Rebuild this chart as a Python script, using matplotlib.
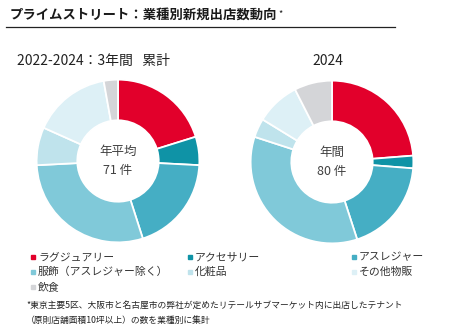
import matplotlib.pyplot as plt
from matplotlib.patches import Rectangle
from matplotlib.lines import Line2D

plt.rcParams['font.family'] = ['Noto Sans CJK JP', 'DejaVu Sans']

categories = ['ラグジュアリー', 'アクセサリー', 'アスレジャー', '服飾（アスレジャー除く）',
              '化粧品', 'その他物販', '飲食']
colors = ['#E2002B', '#0F93A6', '#45AEC4', '#80C9D9', '#BFE3EC', '#DDF0F6', '#D4D5D8']
counts_3yr = [43, 12, 41, 62, 16, 33, 6]
counts_2024 = [19, 2, 15, 28, 3, 7, 6]

W, H = 450, 332
fig = plt.figure(figsize=(W / 100, H / 100), dpi=100)


def px_axes(x0, y0, w, h):
    return fig.add_axes([x0 / W, 1 - (y0 + h) / H, w / W, h / H])


def donut(ax, values, center_lines):
    ax.pie(values, colors=colors, startangle=90, counterclock=False,
           radius=1.0, wedgeprops=dict(width=0.5, edgecolor='white', linewidth=1.3))
    ax.set_xlim(-1.02, 1.02)
    ax.set_ylim(-1.02, 1.02)
    ax.set_aspect('equal')
    ax.axis('off')
    ax.text(0, 0.12, center_lines[0], ha='center', va='center', fontsize=9, color='#404040')
    ax.text(0, -0.12, center_lines[1], ha='center', va='center', fontsize=9, color='#404040')


ax1 = px_axes(35, 78, 166, 166)
donut(ax1, counts_3yr, ['年平均', '71 件'])
ax2 = px_axes(249, 79, 166, 166)
donut(ax2, counts_2024, ['年間', '80 件'])

# title, with the footnote mark just after it
title = fig.text(10 / W, 1 - 15 / H, 'プライムストリート：業種別新規出店数動向', fontsize=9.6,
                 fontweight='bold', color='#1a1a1a', va='center', ha='left')
ax1.annotate('*', xy=(1, 0.95), xycoords=title, xytext=(1, 0), textcoords='offset points',
             fontsize=6.5, color='#1a1a1a', va='top', ha='left', annotation_clip=False)
fig.add_artist(Line2D([6 / W, 395 / W], [1 - 27 / H, 1 - 27 / H], color='#222222', lw=0.9))

fig.text(17 / W, 1 - 61 / H, '2022-2024：3年間   累計', fontsize=10, color='#222222',
         va='center', ha='left')
fig.text(312 / W, 1 - 61 / H, '2024', fontsize=10, color='#222222', va='center', ha='left')

# legend (row-major, 3 columns)
col_x = [31, 188, 352]
row_y = [257, 272, 287]
for i, (name, c) in enumerate(zip(categories, colors)):
    x = col_x[i % 3]
    y = row_y[i // 3]
    fig.add_artist(Rectangle((x / W, 1 - (y + 2) / H), 4 / W, 4 / H, color=c,
                             transform=fig.transFigure))
    fig.text((x + 7) / W, 1 - y / H, name, fontsize=7.8, color='#333333', va='center', ha='left')

fig.text(26 / W, 1 - 305 / H,
         '*東京主要5区、大阪市と名古屋市の弊社が定めたリテールサブマーケット内に出店したテナント',
         fontsize=6.3, color='#222222', va='center', ha='left')
fig.text(26 / W, 1 - 320 / H, '（原則店舗面積10坪以上）の数を業種別に集計',
         fontsize=6.3, color='#222222', va='center', ha='left')

fig.savefig('out.png', dpi=100, facecolor='white')
